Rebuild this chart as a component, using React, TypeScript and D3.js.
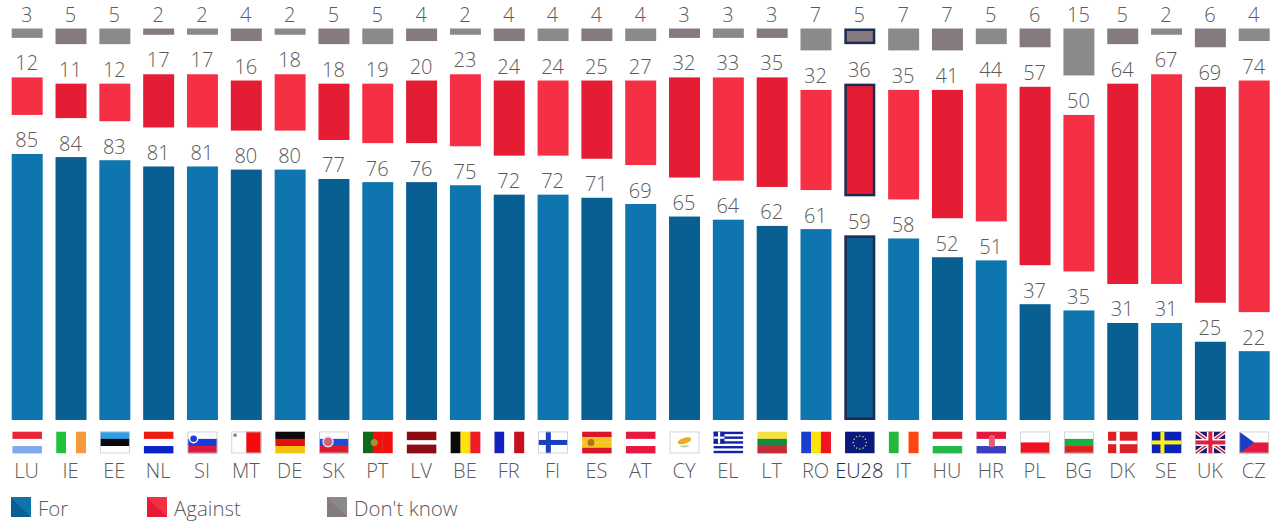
import { useEffect, useRef } from "react";
import * as d3 from "d3";

const countries = ["LU", "IE", "EE", "NL", "SI", "MT", "DE", "SK", "PT", "LV", "BE", "FR", "FI", "ES", "AT", "CY", "EL", "LT", "RO", "EU28", "IT", "HU", "HR", "PL", "BG", "DK", "SE", "UK", "CZ"];
const forValues = [85, 84, 83, 81, 81, 80, 80, 77, 76, 76, 75, 72, 72, 71, 69, 65, 64, 62, 61, 59, 58, 52, 51, 37, 35, 31, 31, 25, 22];
const againstValues = [12, 11, 12, 17, 17, 16, 18, 18, 19, 20, 23, 24, 24, 25, 27, 32, 33, 35, 32, 36, 35, 41, 44, 57, 50, 64, 67, 69, 74];
const dontKnowValues = [3, 5, 5, 2, 2, 4, 2, 5, 5, 4, 2, 4, 4, 4, 4, 3, 3, 3, 7, 5, 7, 7, 5, 6, 15, 5, 2, 6, 4];
const legendLabels = ["For", "Against", "Don't know"];

// plain striped flags, the ones with extras get drawn in drawFlagExtras
const hStripes: Record<string, string[]> = {
  LU: ["#e8233a", "#ffffff", "#7fa8ee"],
  EE: ["#2b9fe6", "#0a0a0a", "#ffffff"],
  NL: ["#ee1c10", "#ffffff", "#0a24c8"],
  SI: ["#ffffff", "#1a3bd6", "#e0173d"],
  DE: ["#0a0a0a", "#e01010", "#f4c20d"],
  SK: ["#ffffff", "#1a50d6", "#e0172d"],
  LV: ["#8c0c14", "#8c0c14", "#ffffff", "#8c0c14", "#8c0c14"],
  ES: ["#d8182a", "#f6c51a", "#f6c51a", "#d8182a"],
  AT: ["#e8173f", "#ffffff", "#e8173f"],
  LT: ["#f4e040", "#148a40", "#c62a36"],
  HU: ["#e0202c", "#ffffff", "#22b84a"],
  HR: ["#e8173f", "#ffffff", "#3a3fc0"],
  PL: ["#ffffff", "#f01020"],
  BG: ["#ffffff", "#18b040", "#e0201c"],
  CZ: ["#ffffff", "#e8173f"],
};
const vStripes: Record<string, string[]> = {
  IE: ["#22c23c", "#ffffff", "#f59a3c"],
  MT: ["#ffffff", "#f50a0a"],
  PT: ["#0f6a1a", "#f01010", "#f01010"],
  BE: ["#0a0a0a", "#ffe20a", "#ee1c25"],
  FR: ["#1420c0", "#ffffff", "#c8101c"],
  RO: ["#1a3fd0", "#ffe20a", "#f0141c"],
  IT: ["#22b83c", "#ffffff", "#ff4510"],
};
const outlined = ["EE", "SI", "MT", "SK", "FI", "CY", "PL", "BG", "CZ"];

const W = 1277;
const H = 524;
const FLAG_W = 29.5;
const FLAG_H = 21.5;

const blue = ["#0f75ae", "#0a5f92"];
const red = ["#f53044", "#e41d35"];
const grey = ["#8a8a8a", "#857a7f"];
const textColor = "#5a5a5a";
const euColor = "#1d2b50";
const font = "'Open Sans', sans-serif";

type G = d3.Selection<SVGGElement, unknown, null, undefined>;

function cross(g: G, fill: string, cx: number, t: number) {
  g.append("rect").attr("x", 0).attr("y", (FLAG_H - t) / 2).attr("width", FLAG_W).attr("height", t).attr("fill", fill);
  g.append("rect").attr("x", cx - t / 2).attr("y", 0).attr("width", t).attr("height", FLAG_H).attr("fill", fill);
}

function drawFlagExtras(g: G, code: string) {
  const sx = d3.scaleLinear().domain([0, 1]).range([0, FLAG_W]);
  const sy = d3.scaleLinear().domain([0, 1]).range([0, FLAG_H]);
  const line = d3.line();

  if (code === "SI") {
    g.append("circle").attr("cx", sx(0.2)).attr("cy", sy(0.33)).attr("r", 4).attr("fill", "#1a3bd6").attr("stroke", "#fff").attr("stroke-width", 1.4);
  } else if (code === "SK") {
    g.append("circle").attr("cx", sx(0.3)).attr("cy", sy(0.47)).attr("r", 5).attr("fill", "#d86070").attr("stroke", "#dfe4f4").attr("stroke-width", 1.4);
  } else if (code === "MT") {
    g.append("rect").attr("x", 2).attr("y", 2).attr("width", 3).attr("height", 3).attr("fill", "#777");
  } else if (code === "PT") {
    g.append("circle").attr("cx", sx(0.38)).attr("cy", sy(0.5)).attr("r", 3.5).attr("fill", "#b88a30");
  } else if (code === "ES") {
    g.append("circle").attr("cx", sx(0.3)).attr("cy", sy(0.5)).attr("r", 3.5).attr("fill", "#b86a20");
  } else if (code === "FI") {
    g.append("rect").attr("width", FLAG_W).attr("height", FLAG_H).attr("fill", "#fff");
    cross(g, "#1a3fc0", sx(0.34), 5);
  } else if (code === "DK") {
    g.append("rect").attr("width", FLAG_W).attr("height", FLAG_H).attr("fill", "#dc2028");
    cross(g, "#fff", sx(0.34), 3.5);
  } else if (code === "SE") {
    g.append("rect").attr("width", FLAG_W).attr("height", FLAG_H).attr("fill", "#0a20b8");
    cross(g, "#fff20a", sx(0.36), 4);
  } else if (code === "CY") {
    g.append("rect").attr("width", FLAG_W).attr("height", FLAG_H).attr("fill", "#fff");
    g.append("ellipse").attr("cx", sx(0.5)).attr("cy", sy(0.42)).attr("rx", 7).attr("ry", 3).attr("fill", "#f0a820").attr("transform", `rotate(-18 ${sx(0.5)} ${sy(0.42)})`);
    g.append("ellipse").attr("cx", sx(0.5)).attr("cy", sy(0.68)).attr("rx", 4.5).attr("ry", 1.1).attr("fill", "#b8d890");
  } else if (code === "EL") {
    g.append("rect").attr("width", FLAG_W).attr("height", FLAG_H).attr("fill", "#fff");
    d3.range(0, 9, 2).forEach((i) => {
      g.append("rect").attr("y", sy(i / 9)).attr("width", FLAG_W).attr("height", FLAG_H / 9).attr("fill", "#1420a8");
    });
    g.append("rect").attr("width", sx(0.37)).attr("height", sy(5 / 9)).attr("fill", "#1420a8");
    g.append("rect").attr("y", sy(5 / 18) - 1.1).attr("width", sx(0.37)).attr("height", 2.2).attr("fill", "#fff");
    g.append("rect").attr("x", sx(0.185) - 1.1).attr("width", 2.2).attr("height", sy(5 / 9)).attr("fill", "#fff");
  } else if (code === "EU28") {
    g.append("rect").attr("width", FLAG_W).attr("height", FLAG_H).attr("fill", "#0a1a7c");
    d3.range(12).forEach((i) => {
      const a = (i / 12) * 2 * Math.PI;
      g.append("circle").attr("cx", FLAG_W / 2 + 6.5 * Math.cos(a)).attr("cy", FLAG_H / 2 + 6.5 * Math.sin(a)).attr("r", 0.8).attr("fill", "#c8c880");
    });
  } else if (code === "HR") {
    g.append("rect").attr("x", sx(0.42)).attr("y", sy(0.15)).attr("width", 6).attr("height", 12).attr("rx", 2).attr("fill", "#e0607a");
  } else if (code === "UK") {
    g.append("rect").attr("width", FLAG_W).attr("height", FLAG_H).attr("fill", "#141a70");
    const diag = [
      [[0, 0], [FLAG_W, FLAG_H]],
      [[FLAG_W, 0], [0, FLAG_H]],
    ] as [number, number][][];
    diag.forEach((d) => {
      g.append("path").attr("d", line(d)).attr("stroke", "#fff").attr("stroke-width", 4);
      g.append("path").attr("d", line(d)).attr("stroke", "#e0203a").attr("stroke-width", 1.6);
    });
    cross(g, "#fff", FLAG_W / 2, 7);
    cross(g, "#e0203a", FLAG_W / 2, 4);
  } else if (code === "CZ") {
    g.append("path")
      .attr("d", line([[0, 0], [sx(0.5), sy(0.5)], [0, FLAG_H]] as [number, number][]))
      .attr("fill", "#1c3fc0");
  }
}

function drawFlag(g: G, code: string) {
  const h = hStripes[code];
  const v = vStripes[code];
  if (h) {
    const y = d3.scaleBand<number>().domain(d3.range(h.length)).range([0, FLAG_H]);
    h.forEach((c, i) => {
      g.append("rect").attr("y", y(i)!).attr("width", FLAG_W).attr("height", y.bandwidth() + 0.2).attr("fill", c);
    });
  }
  if (v) {
    const x = d3.scaleBand<number>().domain(d3.range(v.length)).range([0, FLAG_W]);
    v.forEach((c, i) => {
      g.append("rect").attr("x", x(i)!).attr("width", x.bandwidth() + 0.2).attr("height", FLAG_H).attr("fill", c);
    });
  }
  drawFlagExtras(g, code);
  if (outlined.includes(code)) {
    g.append("rect").attr("x", 0.25).attr("y", 0.25).attr("width", FLAG_W - 0.5).attr("height", FLAG_H - 0.5).attr("fill", "none").attr("stroke", "#c8c8d0").attr("stroke-width", 0.8);
  }
}

export default function App() {
  const svgRef = useRef<SVGSVGElement | null>(null);

  useEffect(() => {
    if (!svgRef.current) return;
    const svg = d3.select(svgRef.current);
    svg.selectAll("*").remove();

    const x = d3.scaleBand<string>().domain(countries).range([11.7, 1269.7]).paddingInner(0.293).paddingOuter(0);
    const bandW = x.bandwidth();
    // one value scale for all three groups, they only get stacked with a gap
    const h = d3.scaleLinear().domain([0, 100]).range([0, 313]);
    const base = 420;
    const gap = 39;
    const greyTop = 28.5;

    const defs = svg.append("defs");
    const swatches: [string, string[]][] = [["sw-for", blue], ["sw-against", red], ["sw-dk", grey]];
    swatches.forEach(([id, colors]) => {
      const grad = defs.append("linearGradient").attr("id", id).attr("x1", "0").attr("y1", "1").attr("x2", "1").attr("y2", "0");
      grad.append("stop").attr("offset", "0%").attr("stop-color", colors[1]);
      grad.append("stop").attr("offset", "50%").attr("stop-color", colors[1]);
      grad.append("stop").attr("offset", "50%").attr("stop-color", colors[0]);
      grad.append("stop").attr("offset", "100%").attr("stop-color", colors[0]);
    });

    const label = (px: number, py: number, t: string | number, size = 20, color = textColor) =>
      svg.append("text").attr("x", px).attr("y", py).attr("text-anchor", "middle").attr("font-family", font).attr("font-weight", 300).attr("font-size", size).attr("fill", color).text(t);

    countries.forEach((code, i) => {
      const bx = x(code)!;
      const cx = bx + bandW / 2;
      const alt = i % 2;
      const isEU = code === "EU28";
      const stroke = isEU ? euColor : "none";

      const bar = (top: number, height: number, fill: string) => {
        const inset = isEU ? 1.25 : 0;
        svg.append("rect")
          .attr("x", bx + inset)
          .attr("y", top + inset)
          .attr("width", bandW - inset * 2)
          .attr("height", height - inset * 2)
          .attr("fill", fill)
          .attr("stroke", stroke)
          .attr("stroke-width", isEU ? 2.5 : 0);
      };

      const forTop = base - h(forValues[i]);
      bar(forTop, h(forValues[i]), blue[alt]);
      label(cx - 0.5, forTop - 6.5, forValues[i]);

      const againstBottom = forTop - gap;
      const againstTop = againstBottom - h(againstValues[i]);
      bar(againstTop, h(againstValues[i]), red[alt]);
      label(cx - 0.5, againstTop - 7, againstValues[i]);

      bar(greyTop, h(dontKnowValues[i]), grey[alt]);
      label(cx - 0.5, 21.5, dontKnowValues[i]);

      const flag = svg.append("g").attr("transform", `translate(${cx - FLAG_W / 2},431.7)`) as unknown as G;
      drawFlag(flag, code);
      label(cx - 0.5, 477.5, code, 20, isEU ? euColor : textColor);
    });

    // legend
    const legendX = [11, 147, 327];
    const swatchIds = ["sw-for", "sw-against", "sw-dk"];
    legendLabels.forEach((t, i) => {
      svg.append("rect").attr("x", legendX[i]).attr("y", 497).attr("width", 20).attr("height", 20).attr("fill", `url(#${swatchIds[i]})`);
      svg.append("text").attr("x", legendX[i] + 27).attr("y", 515.5).attr("font-family", font).attr("font-weight", 300).attr("font-size", 20.5).attr("fill", textColor).text(t);
    });
  }, []);

  return <svg ref={svgRef} width={W} height={H} style={{ position: "absolute", left: 0, top: 0, display: "block", background: "#fff" }} />;
}
